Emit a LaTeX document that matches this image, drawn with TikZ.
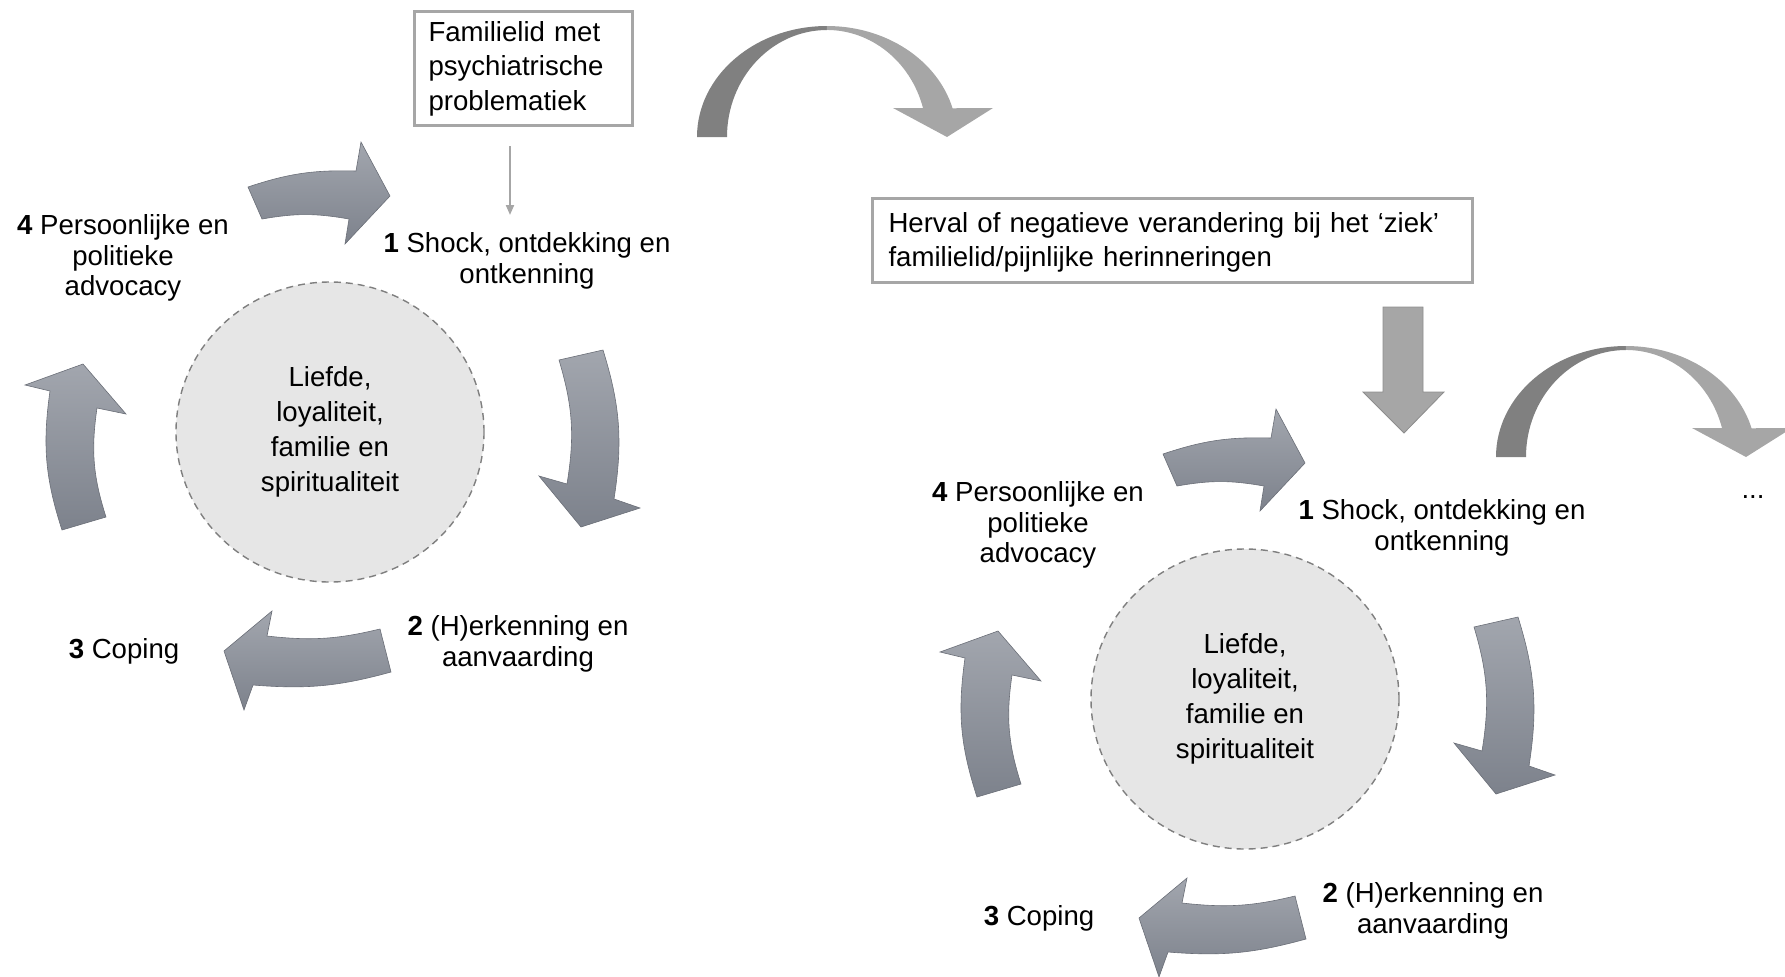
\documentclass[tikz,border=0pt]{standalone}
\usepackage{fontspec}
\setmainfont{Liberation Sans}
\usetikzlibrary{shapes.geometric,arrows.meta}

\definecolor{boxgray}{HTML}{A6A6A6}
\definecolor{corefill}{HTML}{E6E6E6}
\definecolor{coreline}{HTML}{7F7F7F}
\definecolor{cyclelight}{HTML}{A2A6AE}
\definecolor{cycledark}{HTML}{7D828C}
\definecolor{jumpdark}{HTML}{808080}
\definecolor{jumplight}{HTML}{A6A6A6}

\tikzset{
	stage/.style={align=center, inner sep=0pt, font=\fontsize{13.8pt}{15.3pt}\selectfont},
	corebox/.style={ellipse, fill=corefill, draw=coreline, line width=0.7pt,
		dash pattern=on 3.5pt off 2.5pt, minimum width=154pt, minimum height=150pt,
		align=center, font=\fontsize{13.8pt}{17.5pt}\selectfont},
	infobox/.style={draw=boxgray, line width=1.5pt, align=left, anchor=north west,
		font=\fontsize{13.8pt}{17.3pt}\selectfont},
	cyclearrow/.style={top color=cyclelight, bottom color=cycledark, draw=cycledark!85!black, line width=0.3pt},
	blockarrow/.style={fill=jumplight, draw=boxgray!85!black, line width=0.4pt},
	thinarrow/.style={draw=boxgray, line width=1pt, -{Triangle[length=5pt,width=4pt]}},
}

\begin{document}
\begin{tikzpicture}[x=0.5pt, y=0.5pt]
	\useasboundingbox (0,0) rectangle (1785,-976);
	\clip (0,0) rectangle (1785,-976);

	% first cycle: arrows 4->1, 1->2, 2->3, 3->4
	\draw[cyclearrow] (248,-187) to[bend left=10] (356,-171) -- (361,-142) -- (390,-196)
		-- (345,-244) -- (349,-219) to[bend right=10] (262,-219) -- cycle;
	\draw[cyclearrow] (559,-360) -- (603,-350) to[bend left=13] (614,-499) -- (640,-508)
		-- (581,-527) -- (539,-476) -- (567,-484) to[bend right=13] (559,-360) -- cycle;
	\draw[cyclearrow] (380,-629) to[bend left=10] (267,-636) -- (272,-611) -- (224,-651)
		-- (244,-710) -- (253,-685) to[bend right=10] (391,-672) -- cycle;
	\draw[cyclearrow] (106,-517) to[bend left=13] (97,-408) -- (126,-414) -- (83,-364)
		-- (25,-385) -- (50,-391) to[bend right=13] (62,-530) -- cycle;

	% core and stages
	\node[corebox] (lcore) at (330,-432) {Liefde,\\loyaliteit,\\familie en\\spiritualiteit};
	\node[stage] (lshock) at (527,-261) {\textbf{1} Shock, ontdekking en\\ontkenning};
	\node[stage] (lherk) at (518,-644) {\textbf{2} (H)erkenning en\\aanvaarding};
	\node[stage] (lcoping) at (124,-651) {\textbf{3} Coping};
	\node[stage] (lpers) at (123,-258) {\textbf{4} Persoonlijke en\\politieke\\advocacy};

	% trigger
	\node[infobox, text width=95pt, inner xsep=7pt, minimum height=57pt] (fam) at (413,-10)
		{Familielid met\\psychiatrische\\problematiek};
	\coordinate (lfoot) at (510,-215);
	\draw[thinarrow, shorten <=9.5pt] (fam.south -| lfoot) -- (lfoot);

	% jump to the next cycle
	\fill[jumpdark] (697,-137) arc[start angle=180, end angle=90, x radius=130, y radius=111]
		-- (827,-30) arc[start angle=90, end angle=180, x radius=100, y radius=107] -- cycle;
	\fill[jumplight] (827,-26) arc[start angle=90, end angle=15, x radius=130, y radius=111]
		-- (993,-108) -- (947,-137) -- (893,-108) -- (923,-108)
		arc[start angle=15.7, end angle=90, x radius=100, y radius=107] -- cycle;

	% relapse
	\node[infobox, text width=284pt, inner xsep=8pt, minimum height=42pt] (herval) at (871,-197)
		{\rule{0pt}{12pt}Herval of negatieve verandering bij het ‘ziek’\\familielid/pijnlijke herinneringen};
	\draw[blockarrow] (1383,-307) -- (1423,-307) -- (1423,-392) -- (1444,-392) -- (1404,-433)
		-- (1363,-392) -- (1383,-392) -- cycle;

	% second cycle, same layout
	\begin{scope}[shift={(915,-267)}]
		\draw[cyclearrow] (248,-187) to[bend left=10] (356,-171) -- (361,-142) -- (390,-196)
			-- (345,-244) -- (349,-219) to[bend right=10] (262,-219) -- cycle;
		\draw[cyclearrow] (559,-360) -- (603,-350) to[bend left=13] (614,-499) -- (640,-508)
			-- (581,-527) -- (539,-476) -- (567,-484) to[bend right=13] (559,-360) -- cycle;
		\draw[cyclearrow] (380,-629) to[bend left=10] (267,-636) -- (272,-611) -- (224,-651)
			-- (244,-710) -- (253,-685) to[bend right=10] (391,-672) -- cycle;
		\draw[cyclearrow] (106,-517) to[bend left=13] (97,-408) -- (126,-414) -- (83,-364)
			-- (25,-385) -- (50,-391) to[bend right=13] (62,-530) -- cycle;

		\node[corebox] (rcore) at (330,-432) {Liefde,\\loyaliteit,\\familie en\\spiritualiteit};
		\node[stage] (rshock) at (527,-261) {\textbf{1} Shock, ontdekking en\\ontkenning};
		\node[stage] (rherk) at (518,-644) {\textbf{2} (H)erkenning en\\aanvaarding};
		\node[stage] (rcoping) at (124,-651) {\textbf{3} Coping};
		\node[stage] (rpers) at (123,-258) {\textbf{4} Persoonlijke en\\politieke\\advocacy};
	\end{scope}

	% and on
	\begin{scope}[shift={(799,-320)}]
		\fill[jumpdark] (697,-137) arc[start angle=180, end angle=90, x radius=130, y radius=111]
			-- (827,-30) arc[start angle=90, end angle=180, x radius=100, y radius=107] -- cycle;
		\fill[jumplight] (827,-26) arc[start angle=90, end angle=15, x radius=130, y radius=111]
			-- (993,-108) -- (947,-137) -- (893,-108) -- (923,-108)
			arc[start angle=15.7, end angle=90, x radius=100, y radius=107] -- cycle;
	\end{scope}
	\node[stage] (more) at (1753,-497) {...};
\end{tikzpicture}
\end{document}
